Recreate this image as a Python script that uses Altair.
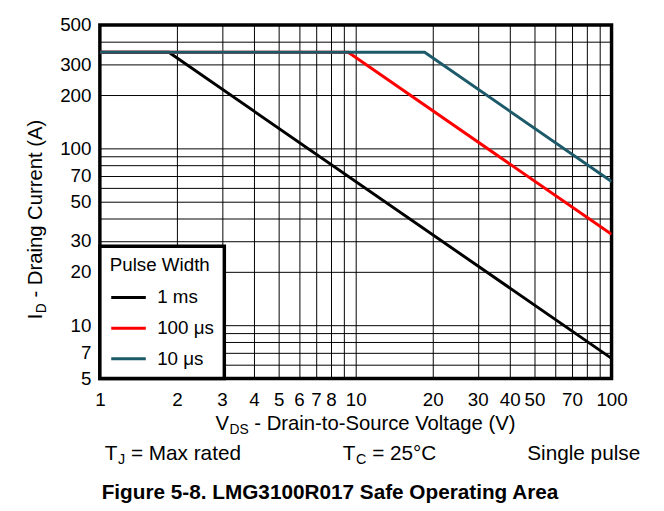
import altair as alt
import pandas as pd

FONT = "Liberation Sans"

# ---- data ----
series = ["1 ms", "100 μs", "10 μs"]
colors = ["#000000", "#ff0000", "#1d5a69"]
v_1ms = [1, 1.86, 100]
i_1ms = [350, 350, 6.5]
v_100us = [1, 9.35, 100]
i_100us = [350, 350, 32.7]
v_10us = [1, 18.6, 100]
i_10us = [350, 350, 65]

x_ticks = [1, 2, 3, 4, 5, 6, 7, 8, 9, 10, 20, 30, 40, 50, 60, 70, 80, 90, 100]
x_labels = [1, 2, 3, 4, 5, 6, 7, 8, 10, 20, 30, 40, 50, 70, 100]
y_ticks = [5, 6, 7, 8, 9, 10, 20, 30, 40, 50, 60, 70, 80, 90, 100, 200, 300, 400, 500]
y_labels = [5, 7, 10, 20, 30, 50, 70, 100, 200, 300, 500]

legend_title = "Pulse Width"
x_title = ["V", "DS", "- Drain-to-Source Voltage (V)"]
y_title = ["I", "D", "- Draing Current (A)"]
note_tj = ["T", "J", "= Max rated"]
note_tc = ["T", "C", "= 25°C"]
note_sp = "Single pulse"
fig_title = "Figure 5-8. LMG3100R017 Safe Operating Area"

rows = []
for name, vs, cs in [(series[0], v_1ms, i_1ms), (series[1], v_100us, i_100us), (series[2], v_10us, i_10us)]:
    for k, (v, c) in enumerate(zip(vs, cs)):
        rows.append({"series": name, "V": v, "I": c, "idx": k})
df = pd.DataFrame(rows)


def lab_expr(vals):
    return "indexof([" + ",".join(str(v) for v in vals) + "], datum.value) >= 0 ? datum.label : ''"


W, H = 518, 358
TICK_FS = 19

lines = alt.Chart(df).mark_line(strokeWidth=3, clip=True).encode(
    x=alt.X("V:Q",
            scale=alt.Scale(type="log", domain=[1, 100], nice=False),
            axis=alt.Axis(values=x_ticks, labelExpr=lab_expr(x_labels), format="d",
                          title=None, grid=True, gridColor="#000000", gridWidth=1,
                          tickSize=0, domain=False, labelPadding=12, labelFontSize=TICK_FS,
                          labelFont=FONT, labelColor="#000000", labelFlush=False,
                          labelOverlap=False)),
    y=alt.Y("I:Q",
            scale=alt.Scale(type="log", domain=[5, 500], nice=False),
            axis=alt.Axis(values=y_ticks, labelExpr=lab_expr(y_labels), format="d",
                          title=None, grid=True, gridColor="#000000", gridWidth=1,
                          tickSize=0, domain=False, labelPadding=9, labelFontSize=TICK_FS,
                          labelFont=FONT, labelColor="#000000", labelOverlap=False,
                          labelFlush=False)),
    color=alt.Color("series:N",
                    scale=alt.Scale(domain=series, range=colors),
                    sort=series,
                    legend=alt.Legend(title=legend_title, orient="bottom-left", offset=0,
                                      padding=10, strokeColor="#000000", fillColor="#ffffff",
                                      symbolType="stroke", symbolSize=1225,
                                      symbolStrokeWidth=3, labelFontSize=19,
                                      titleFontSize=19, titleFontWeight="normal",
                                      labelFont=FONT, titleFont=FONT,
                                      labelColor="#000000", titleColor="#000000",
                                      rowPadding=2, titlePadding=4, labelOffset=10)),
    order="idx:Q",
)

# approximate Arial advance widths (em) for placing subscripts
AW = {"V": 0.667, "D": 0.722, "S": 0.667, "I": 0.278, "T": 0.611, "J": 0.5,
      "C": 0.722, " ": 0.278}


def wid(s, size):
    return sum(AW[c] for c in s) * size


def txt(s, x, y, size=19, weight="normal", angle=0, align="left"):
    return alt.Chart(pd.DataFrame({"t": [s]})).mark_text(
        align=align, baseline="alphabetic", fontSize=size, fontWeight=weight,
        angle=angle, font=FONT, color="#000000"
    ).encode(x=alt.value(x), y=alt.value(y), text="t:N")


def sub_text(parts, x, y, size, subsize, rotated=False):
    main, sub, rest = parts
    w1 = wid(main, size) + 0.5
    w2 = wid(sub, subsize) + wid(" ", size)
    drop = size * 0.2
    if not rotated:
        return [txt(main, x, y, size),
                txt(sub, x + w1, y + drop, subsize),
                txt(rest, x + w1 + w2, y, size)]
    return [txt(main, x, y, size, angle=270),
            txt(sub, x + drop, y - w1, subsize, angle=270),
            txt(rest, x, y - w1 - w2, size, angle=270)]


one = pd.DataFrame({"a": [0]})
frame_top = alt.Chart(one).mark_rule(color="#8c8c8c", strokeWidth=1.5).encode(
    x=alt.value(-98), x2=alt.value(560), y=alt.value(-18.5))
frame_left = alt.Chart(one).mark_rule(color="#8c8c8c", strokeWidth=1.5).encode(
    x=alt.value(-98), y=alt.value(-19), y2=alt.value(489))

texts = []
texts += sub_text(x_title, 117, 410, 20.5, 14)
texts += sub_text(y_title, -59, 298, 20.5, 14, rotated=True)
texts += sub_text(note_tj, 5, 440, 21, 14.5)
texts += sub_text(note_tc, 246, 440, 21, 14.5)
texts.append(txt(note_sp, 547, 440, 21, align="right"))
texts.append(txt(fig_title, 233, 480, 21, weight="bold", align="center"))

chart = alt.layer(frame_top, frame_left, lines, *texts).properties(
    width=W, height=H,
    autosize=alt.AutoSizeParams(type="none"),
    padding={"left": 93, "top": 14, "right": 45, "bottom": 131},
).configure_view(
    stroke="#000000", strokeWidth=3.5
).configure_legend(
    strokeWidth=3.5
)

chart.save("out.html", embed_options={"renderer": "svg", "actions": False})
